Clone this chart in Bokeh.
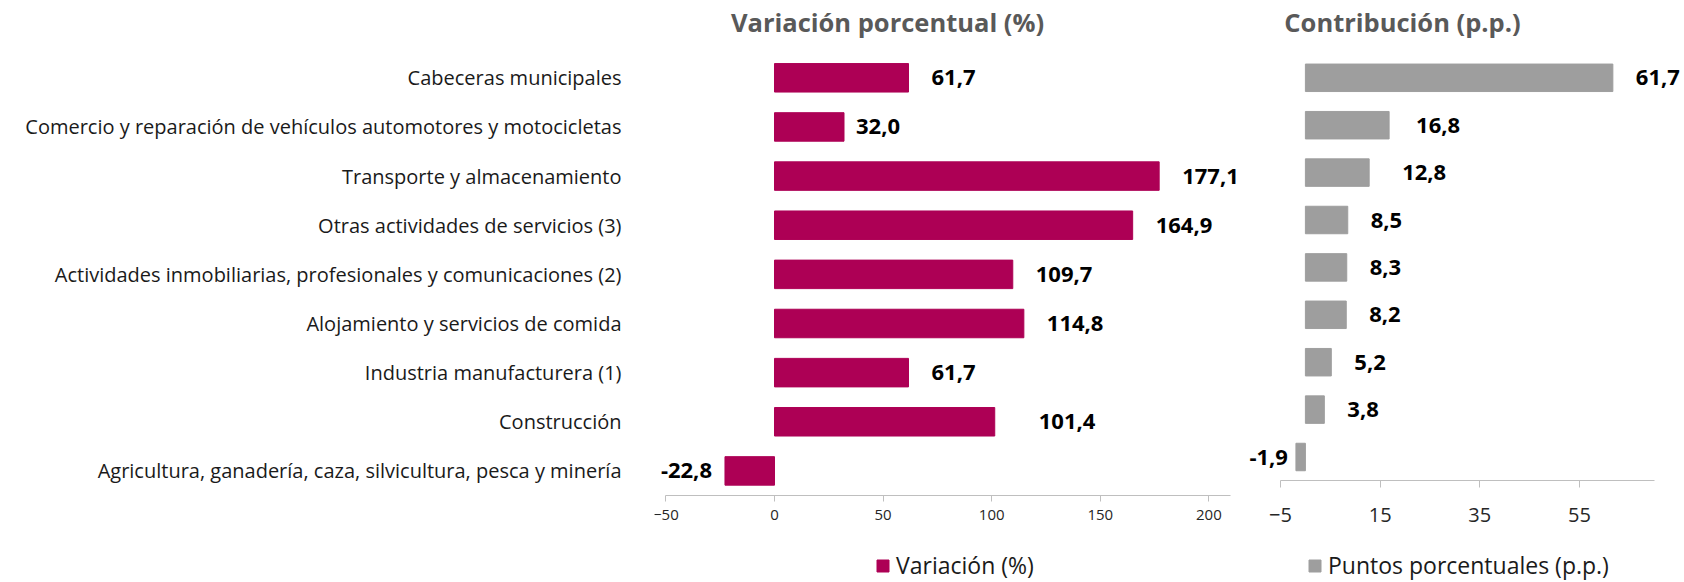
from bokeh.plotting import figure
from bokeh.models import ColumnDataSource, Range1d, LabelSet, Label, FixedTicker, Legend, LegendItem
from bokeh.layouts import row
from bokeh.core.properties import value
from bokeh.embed import file_html
from bokeh.resources import INLINE

categories = [
    "Cabeceras municipales",
    "Comercio y reparación de vehículos automotores y motocicletas",
    "Transporte y almacenamiento",
    "Otras actividades de servicios (3)",
    "Actividades inmobiliarias, profesionales y comunicaciones (2)",
    "Alojamiento y servicios de comida",
    "Industria manufacturera (1)",
    "Construcción",
    "Agricultura, ganadería, caza, silvicultura, pesca y minería",
]
variacion = [61.7, 32.0, 177.1, 164.9, 109.7, 114.8, 61.7, 101.4, -22.8]
contribucion = [61.7, 16.8, 12.8, 8.5, 8.3, 8.2, 5.2, 3.8, -1.9]
left_ticks = [-50, 0, 50, 100, 150, 200]
right_ticks = [-5, 15, 35, 55]

# label gap (px) between bar end and its value label, as placed in the original
gap_left = [23, 12, 23, 23, 23, 23, 23, 44, 13]
gap_right = [23, 27, 33, 23, 23, 23, 23, 23, 8]

FONT = "Open Sans"
BAR1 = "#AD0055"
BAR2 = "#9E9E9E"
H = 582
ROW0 = 77.3          # pixel centre of first row
PITCH_L, PITCH_R = 49.14, 47.4

rows = list(range(len(categories)))


def fmt(v):
    return ("%.1f" % v).replace(".", ",")


def sources(vals, gaps):
    idx_p = [i for i, v in enumerate(vals) if v >= 0]
    idx_n = [i for i, v in enumerate(vals) if v < 0]
    full = ColumnDataSource(dict(row=rows, val=vals))
    sp = ColumnDataSource(dict(row=[rows[i] for i in idx_p], val=[vals[i] for i in idx_p],
                               lbl=[fmt(vals[i]) for i in idx_p], off=[gaps[i] for i in idx_p]))
    sn = ColumnDataSource(dict(row=[rows[i] for i in idx_n], val=[vals[i] for i in idx_n],
                               lbl=[fmt(vals[i]) for i in idx_n], off=[-gaps[i] for i in idx_n]))
    return full, sp, sn


def yrange(pitch):
    top = -ROW0 / pitch
    return Range1d(start=top + H / pitch, end=top)


def style_common(p):
    p.outline_line_color = None
    p.xgrid.visible = False
    p.ygrid.visible = False
    p.background_fill_color = None
    p.border_fill_color = None


def value_labels(p, sp, sn):
    common = dict(y="row", text="lbl", text_baseline="middle", text_font=value(FONT),
                  text_font_size="22px", text_font_style="bold", text_color="#000000")
    p.add_layout(LabelSet(x="val", source=sp, x_offset="off", text_align="left", **common))
    p.add_layout(LabelSet(x="val", source=sn, x_offset="off", text_align="right", **common))


def style_xaxis(p, ticks, bounds, font_size, tick_out, standoff):
    ax = p.xaxis[0]
    ax.ticker = FixedTicker(ticks=ticks)
    ax.bounds = bounds
    ax.fixed_location = len(categories) - 0.5
    ax.axis_line_color = "#BFBFBF"
    ax.major_tick_line_color = "#BFBFBF"
    ax.major_tick_out = tick_out
    ax.major_tick_in = 0
    ax.minor_tick_line_color = None
    ax.major_label_text_font = FONT
    ax.major_label_text_font_size = font_size
    ax.major_label_text_color = "#262626"
    ax.major_label_standoff = standoff


def legend(p, label, r, x):
    leg = Legend(items=[LegendItem(label=label, renderers=[r])], location=(x, 1),
                 padding=0, margin=0, spacing=0, label_standoff=6, glyph_width=15, glyph_height=15,
                 border_line_color=None, background_fill_alpha=0,
                 label_text_font=FONT, label_text_font_size="23px", label_text_color="#1a1a1a")
    p.add_layout(leg, "center")


# ---------------- left panel ----------------
L_FRAME_LEFT = 654
L_ZERO, L_SCALE = 774, 2.172
W1 = 1245
full1, sp1, sn1 = sources(variacion, gap_left)
p1 = figure(width=W1, height=H, y_range=yrange(PITCH_L),
            x_range=Range1d((L_FRAME_LEFT - L_ZERO) / L_SCALE, (W1 - L_ZERO) / L_SCALE),
            output_backend="svg", toolbar_location=None,
            min_border_left=L_FRAME_LEFT, min_border_right=0, min_border_top=0, min_border_bottom=0)
style_common(p1)
r1 = p1.hbar(y="row", left=0, right="val", height=0.58, source=full1, fill_color=BAR1, line_color=BAR1)
style_xaxis(p1, left_ticks, (-50, 210), "15px", 6, 9)

p1.yaxis.ticker = FixedTicker(ticks=rows)
p1.yaxis.major_label_overrides = {r: c for r, c in zip(rows, categories)}
p1.yaxis.axis_line_color = None
p1.yaxis.major_tick_line_color = None
p1.yaxis.minor_tick_line_color = None
p1.yaxis.major_tick_out = 0
p1.yaxis.major_label_standoff = 33
p1.yaxis.major_label_text_font = FONT
p1.yaxis.major_label_text_font_size = "20px"
p1.yaxis.major_label_text_color = "#1a1a1a"

value_labels(p1, sp1, sn1)

p1.add_layout(Label(x=887 - L_FRAME_LEFT, y=H - 21, x_units="screen", y_units="screen",
                    text="Variación porcentual (%)", text_align="center", text_baseline="middle",
                    text_font=FONT, text_font_size="25.5px", text_font_style="bold",
                    text_color="#595959"))
legend(p1, "Variación (%)", r1, 875 - L_FRAME_LEFT)

# ---------------- right panel ----------------
R_FRAME_LEFT = W1
R_ZERO, R_SCALE = 1304.9, 4.983
W2 = 1684 - W1
full2, sp2, sn2 = sources(contribucion, gap_right)
p2 = figure(width=W2, height=H, y_range=yrange(PITCH_R),
            x_range=Range1d((R_FRAME_LEFT - R_ZERO) / R_SCALE, (R_FRAME_LEFT + W2 - R_ZERO) / R_SCALE),
            output_backend="svg", toolbar_location=None,
            min_border_left=0, min_border_right=0, min_border_top=0, min_border_bottom=0)
style_common(p2)
r2 = p2.hbar(y="row", left=0, right="val", height=0.58, source=full2, fill_color=BAR2, line_color=BAR2)
p2.yaxis.visible = False
style_xaxis(p2, right_ticks, (-5, 70), "20px", 7, 20)

value_labels(p2, sp2, sn2)

p2.add_layout(Label(x=1402 - R_FRAME_LEFT, y=H - 21, x_units="screen", y_units="screen",
                    text="Contribución (p.p.)", text_align="center", text_baseline="middle",
                    text_font=FONT, text_font_size="25.5px", text_font_style="bold",
                    text_color="#595959"))
legend(p2, "Puntos porcentuales (p.p.)", r2, 1307 - R_FRAME_LEFT)

layout = row(p1, p2, spacing=0)
open("out.html", "w").write(file_html(layout, INLINE))
